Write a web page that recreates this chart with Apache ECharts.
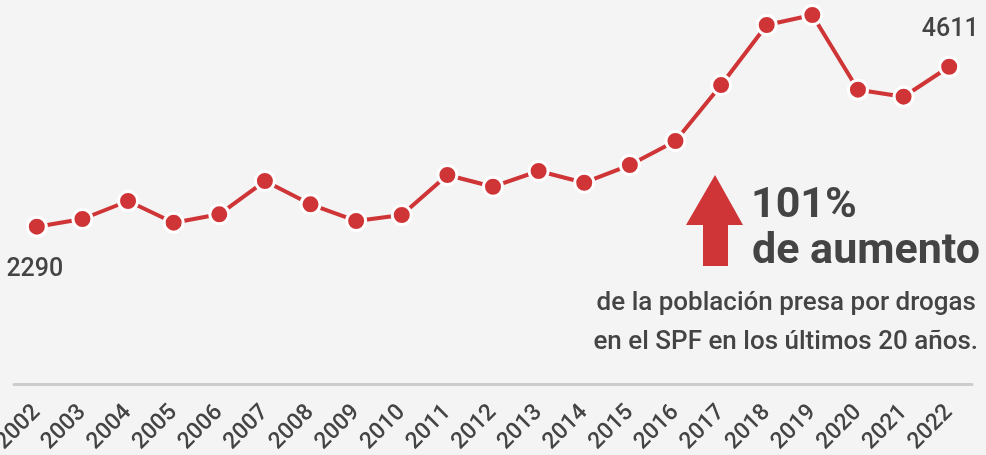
<!DOCTYPE html>
<html lang="es">
<head>
    <meta charset="UTF-8">
    <title>Población presa por drogas en el SPF</title>
    <style>
        html, body { margin: 0; padding: 0; background: #f4f4f4; }
    </style>
</head>
<body>
    <div id="chart" style="width:986px; height:455px"></div>

    <script src="https://cdn.jsdelivr.net/npm/echarts@6/dist/echarts.min.js"></script>
    <script>
        // años y población presa por drogas
        const years = ['2002', '2003', '2004', '2005', '2006', '2007', '2008', '2009', '2010', '2011', '2012',
            '2013', '2014', '2015', '2016', '2017', '2018', '2019', '2020', '2021', '2022'];
        const presos = [2290, 2402, 2663, 2348, 2470, 2953, 2615, 2373, 2460, 3040, 2870,
            3098, 2928, 3185, 3533, 4345, 5216, 5361, 4278, 4176, 4611];

        const rojo = '#cf3536';
        const gris = '#444444';
        const fuente = 'Roboto, "Noto Sans", sans-serif';

        const chart = echarts.init(document.getElementById('chart'));

        chart.setOption({
            backgroundColor: '#f4f4f4',
            animation: false,
            grid: { left: 14, right: 14, top: 10, height: 378, outerBoundsMode: 'none', containLabel: false },
            xAxis: {
                type: 'category',
                data: years,
                boundaryGap: true,
                offset: 4,
                axisLine: { lineStyle: { color: '#cdcdcd', width: 3 } },
                axisTick: { show: false },
                axisLabel: {
                    rotate: 45,
                    margin: 17,
                    color: gris,
                    fontFamily: fuente,
                    fontSize: 23,
                    fontWeight: 500
                }
            },
            yAxis: {
                type: 'value',
                min: -50,
                max: 5434,
                show: false,
                splitLine: { show: false }
            },
            series: [{
                type: 'line',
                data: presos.map((v, i) => {
                    // solo el primer y el último valor llevan etiqueta
                    if (i === 0) {
                        return { value: v, label: { show: true, position: 'bottom', distance: 20, offset: [-2, 0] } };
                    }
                    if (i === presos.length - 1) {
                        return { value: v, label: { show: true, position: 'top', distance: 13, offset: [1, 0] } };
                    }
                    return v;
                }),
                symbol: 'circle',
                symbolSize: 19,
                lineStyle: { color: rojo, width: 4 },
                itemStyle: { color: rojo, borderColor: '#ffffff', borderWidth: 3 },
                label: {
                    color: gris,
                    fontFamily: fuente,
                    fontSize: 25,
                    fontWeight: 500
                },
                z: 3
            }],
            // flecha y texto del aumento
            graphic: [
                {
                    type: 'polygon',
                    shape: {
                        points: [[686, 225], [715, 175], [743, 225], [728, 225], [728, 266], [703, 266], [703, 225]]
                    },
                    style: { fill: rojo }
                },
                {
                    type: 'text', left: 751, top: 185,
                    style: { text: '101%', fill: gris, font: 'bold 43px ' + fuente }
                },
                {
                    type: 'text', left: 752, top: 231,
                    style: { text: 'de aumento', fill: gris, font: 'bold 43px ' + fuente }
                },
                {
                    type: 'text', right: 10, top: 290,
                    style: { text: 'de la población presa por drogas', fill: gris, font: '500 26px ' + fuente }
                },
                {
                    type: 'text', right: 8, top: 329,
                    style: { text: 'en el SPF en los últimos 20 años.', fill: gris, font: '500 26px ' + fuente }
                }
            ]
        });
    </script>
</body>
</html>
